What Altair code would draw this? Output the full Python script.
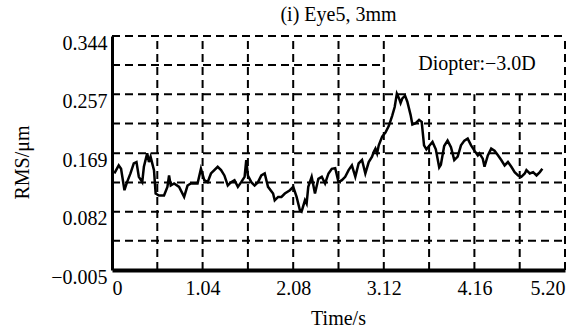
import altair as alt
import pandas as pd

# ---- data ----
time_s = [0.027, 0.077, 0.104, 0.143, 0.173, 0.212, 0.250, 0.281, 0.308, 0.347,
          0.366, 0.404, 0.424, 0.443, 0.462, 0.482, 0.501, 0.539, 0.597, 0.636,
          0.655, 0.674, 0.713, 0.770, 0.828, 0.867, 0.905, 0.982, 1.021, 1.059,
          1.098, 1.136, 1.213, 1.252, 1.290, 1.329, 1.367, 1.406, 1.445, 1.483,
          1.522, 1.541, 1.560, 1.599, 1.637, 1.676, 1.714, 1.753, 1.791, 1.849,
          1.868, 1.907, 1.945, 1.984, 2.042, 2.080, 2.119, 2.157, 2.176, 2.215,
          2.234, 2.253, 2.292, 2.330, 2.369, 2.408, 2.446, 2.485, 2.523, 2.562,
          2.600, 2.639, 2.677, 2.716, 2.754, 2.793, 2.831, 2.870, 2.908, 2.947,
          2.985, 3.004, 3.024, 3.043, 3.062, 3.101, 3.139, 3.178, 3.216, 3.245,
          3.270, 3.295, 3.313, 3.333, 3.364, 3.390, 3.428, 3.448, 3.486, 3.525,
          3.555, 3.582, 3.609, 3.640, 3.679, 3.717, 3.756, 3.775, 3.813, 3.852,
          3.891, 3.929, 3.968, 4.006, 4.045, 4.083, 4.122, 4.160, 4.199, 4.218,
          4.256, 4.276, 4.314, 4.353, 4.391, 4.430, 4.468, 4.507, 4.545, 4.584,
          4.622, 4.661, 4.699, 4.738, 4.757, 4.796, 4.834, 4.873, 4.911, 4.940]
rms_um = [0.139, 0.151, 0.146, 0.114, 0.126, 0.139, 0.154, 0.156, 0.134, 0.126,
          0.149, 0.169, 0.156, 0.164, 0.154, 0.144, 0.109, 0.106, 0.106, 0.119,
          0.136, 0.121, 0.124, 0.119, 0.104, 0.121, 0.124, 0.124, 0.146, 0.129,
          0.126, 0.139, 0.149, 0.144, 0.136, 0.121, 0.126, 0.129, 0.119, 0.126,
          0.134, 0.159, 0.136, 0.126, 0.121, 0.126, 0.136, 0.139, 0.119, 0.109,
          0.099, 0.104, 0.104, 0.109, 0.114, 0.119, 0.104, 0.084, 0.082, 0.099,
          0.094, 0.119, 0.134, 0.109, 0.131, 0.134, 0.124, 0.139, 0.146, 0.147,
          0.126, 0.129, 0.134, 0.144, 0.151, 0.134, 0.154, 0.159, 0.139, 0.156,
          0.164, 0.171, 0.176, 0.169, 0.181, 0.194, 0.200, 0.210, 0.225, 0.238,
          0.258, 0.251, 0.244, 0.251, 0.255, 0.246, 0.226, 0.212, 0.214, 0.219,
          0.216, 0.181, 0.175, 0.180, 0.186, 0.175, 0.148, 0.152, 0.180, 0.188,
          0.178, 0.159, 0.164, 0.181, 0.188, 0.191, 0.181, 0.173, 0.166, 0.169,
          0.161, 0.149, 0.166, 0.176, 0.173, 0.166, 0.159, 0.151, 0.156, 0.149,
          0.141, 0.136, 0.134, 0.139, 0.144, 0.139, 0.141, 0.136, 0.141, 0.146]

x_ticks = [0, 1.04, 2.08, 3.12, 4.16, 5.20]
y_ticks = [-0.005, 0.082, 0.169, 0.257, 0.344]
x_grid = [0.52, 1.04, 1.56, 2.08, 2.60, 3.12, 3.64, 4.16, 4.68, 5.20]
y_grid = [0.0386, 0.082, 0.1256, 0.169, 0.2134, 0.257, 0.3006, 0.344]
title_text = "(i) Eye5, 3mm"
note_text = "Diopter:\u22123.0D"
# annotation box (in data units): time 3.12-5.20, RMS 0.257-0.344
box_t = [3.12, 5.20]
box_v = [0.257, 0.344]

X0, X1 = 0, 5.2
Y0, Y1 = -0.005, 0.344
FONT = "Liberation Serif"

line_df = pd.DataFrame({"t": time_s, "v": rms_um})

vgrid = pd.DataFrame({
    "t": x_grid,
    "y0": [Y0] * len(x_grid),
    "y1": [box_v[0] if box_t[0] < g < box_t[1] else Y1 for g in x_grid],
})
hgrid = pd.DataFrame({
    "v": y_grid,
    "x0": [X0] * len(y_grid),
    "x1": [box_t[0] if box_v[0] < g < box_v[1] else X1 for g in y_grid],
})

xs = alt.Scale(domain=[X0, X1], nice=False, zero=False)
ys = alt.Scale(domain=[Y0, Y1], nice=False, zero=False)

x_axis = alt.Axis(
    values=x_ticks, labelExpr="datum.value == 0 ? '0' : format(datum.value, '.2f')",
    grid=False, ticks=False, domainColor="black", domainWidth=4,
    labelFont=FONT, labelFontSize=20, labelColor="black", labelPadding=8,
    title="Time/s", titleFont=FONT, titleFontSize=20, titleFontWeight="normal",
    titleColor="black", titleX=226, titleY=48, titleBaseline="middle",
    titleAlign="center")
y_axis = alt.Axis(
    values=y_ticks,
    labelExpr="replace(format(datum.value, '.3f'), '-', '\u2212')",
    grid=False, ticks=False, domainColor="black", domainWidth=3,
    labelFont=FONT, labelFontSize=20, labelColor="black", labelPadding=5,
    labelOffset=7,
    title="RMS/\u03bcm", titleFont=FONT, titleFontSize=20, titleFontWeight="normal",
    titleColor="black", titleX=-90, titleY=126, titleAngle=-90,
    titleBaseline="middle", titleAlign="center")

dash = dict(color="black", strokeWidth=2, strokeDash=[8, 5])

vrules = alt.Chart(vgrid).mark_rule(**dash).encode(
    x=alt.X("t:Q", scale=xs, axis=x_axis),
    y=alt.Y("y0:Q", scale=ys, axis=y_axis),
    y2="y1:Q",
)
hrules = alt.Chart(hgrid).mark_rule(**dash).encode(
    y=alt.Y("v:Q", scale=ys, axis=y_axis),
    x=alt.X("x0:Q", scale=xs, axis=x_axis),
    x2="x1:Q",
)

line = alt.Chart(line_df).mark_line(color="black", strokeWidth=2.5).encode(
    x=alt.X("t:Q", scale=xs, axis=x_axis),
    y=alt.Y("v:Q", scale=ys, axis=y_axis),
)

note = alt.Chart(pd.DataFrame({"txt": [note_text]})).mark_text(
    font=FONT, fontSize=20, color="black", baseline="middle", align="center"
).encode(
    x=alt.datum(4.19, scale=xs, axis=x_axis),
    y=alt.datum(0.302, scale=ys, axis=y_axis),
    text="txt:N",
)

chart = alt.layer(vrules, hrules, line, note).properties(
    width=453, height=234,
    title=alt.TitleParams(title_text, font=FONT, fontSize=20, fontWeight="normal",
                          color="black", anchor="middle", offset=8),
    autosize=alt.AutoSizeParams(type="none"),
    padding={"left": 112, "top": 36, "right": 19, "bottom": 64},
).configure(
    background="white", font=FONT
).configure_view(
    stroke=None
).configure_axis(
    labelFont=FONT, titleFont=FONT, labelFontWeight="normal", titleFontWeight="normal"
).configure_title(font=FONT)

chart.save("out.html", embed_options={"renderer": "svg", "actions": False})
